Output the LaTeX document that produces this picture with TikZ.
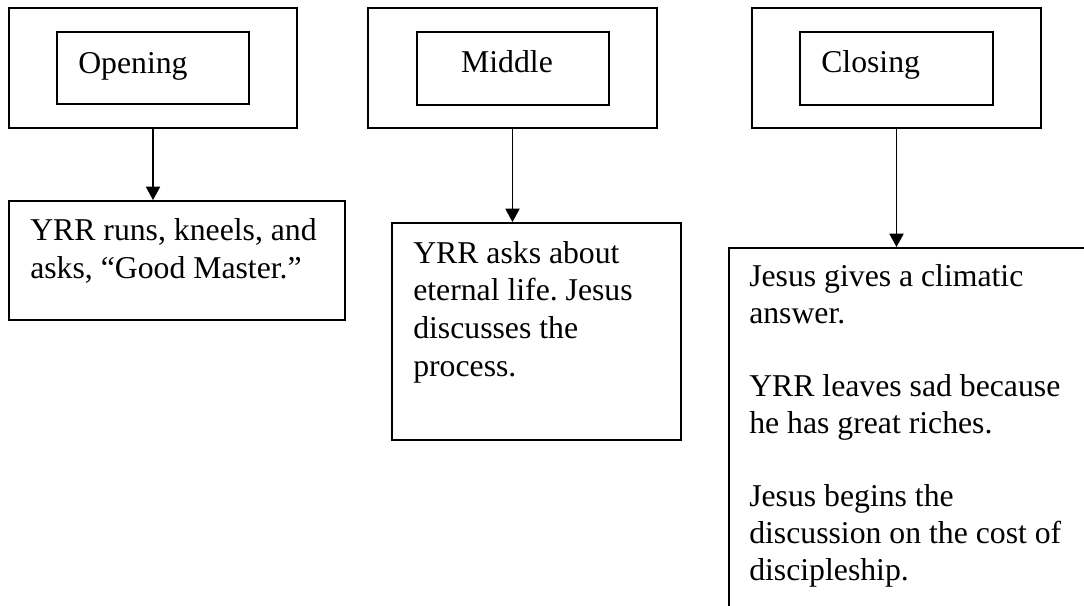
\documentclass[tikz,border=0pt]{standalone}
\usepackage{fontspec}
\setmainfont{Liberation Serif}
\usetikzlibrary{fit,arrows.meta}
\frenchspacing
\tikzset{
  box/.style={draw=black, line width=1.4pt, inner sep=0pt, rectangle},
  arr/.style={draw=black, line width=1.4pt, -{Triangle[width=10.5pt,length=10pt]}},
  txt/.style={inner sep=0pt, align=left, font=\fontsize{23.8pt}{28.2pt}\selectfont},
  txtc/.style={txt, font=\fontsize{23.8pt}{27.5pt}\selectfont},
}
\begin{document}
\begin{tikzpicture}[x=0.75pt,y=-0.75pt]
\useasboundingbox (0,0) rectangle (1084,606);
\clip (0,0) rectangle (1084,606);
\fill[white] (0,0) rectangle (1084,606);
% top outer boxes
\node[box, fit={(9,8)(297,128)}] (o1) {};
\node[box, fit={(57,32)(249,104)}] (i1) {};
\node[box, fit={(368,8)(657,128)}] (o2) {};
\node[box, fit={(417,32)(609,105)}] (i2) {};
\node[box, fit={(752,8)(1041,128)}] (o3) {};
\node[box, fit={(800,32)(993,105)}] (i3) {};
% labels
\node[txt, anchor=base west] (t1) at (78,74) {Opening};
\node[txt, anchor=base] (t2) at (507,73) {Middle};
\node[txt, anchor=base west] (t3) at (821,73) {Closing};
% lower boxes
\node[box, fit={(9,201)(345,320)}] (b1) {};
\node[box, fit={(392,223)(681,440)}] (b2) {};
\node[box, fit={(729,248)(1110,660)}] (b3) {};
% arrows
\draw[arr] (o1.south) -- (o1.south |- b1.north);
\draw[arr] (o2.south) -- (o2.south |- b2.north);
\draw[arr] (o3.south) -- (o3.south |- b3.north);
% lower texts (base anchor = last line's baseline)
\node[txt, anchor=base west] (d1) at (30,278) {YRR runs, kneels, and\\asks, “Good Master.”};
\node[txt, anchor=base west] (d2) at (413,376) {YRR asks about\\eternal life. Jesus\\discusses the\\process.};
\node[txtc, anchor=base west] (d3) at (749,580) {Jesus gives a climatic\\answer.\\[27.5pt]YRR leaves sad because\\he has great riches.\\[27.5pt]Jesus begins the\\discussion on the cost of\\discipleship.};
\end{tikzpicture}
\end{document}
